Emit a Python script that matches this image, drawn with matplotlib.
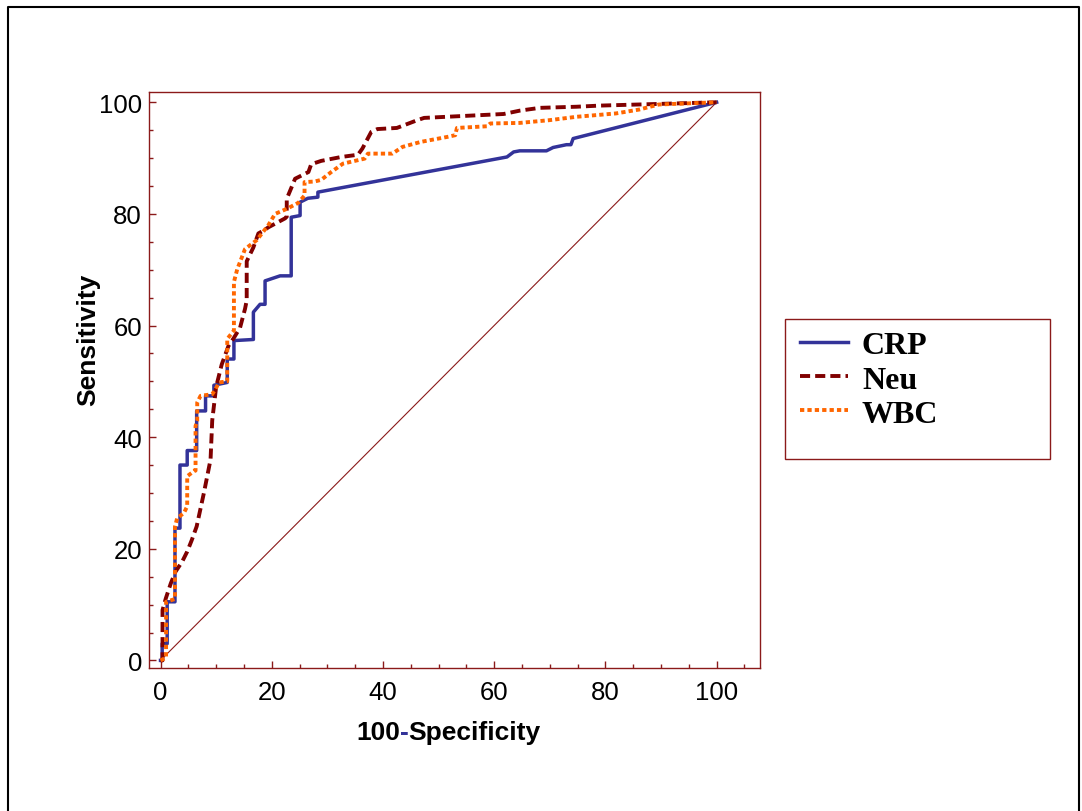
import matplotlib
matplotlib.use("Agg")
import matplotlib.pyplot as plt
from matplotlib.patches import Rectangle
from matplotlib.lines import Line2D
from matplotlib.ticker import MultipleLocator

plt.rcParams['font.family'] = ['Liberation Sans', 'DejaVu Sans']

# ROC curves (100-Specificity, Sensitivity)
crp_x = [0, 0.3, 0.3, 1.2, 1.2, 2.6, 2.6, 3.5, 3.5, 4.8, 4.8, 6.5, 6.5, 8.1, 8.1,
         9.6, 9.6, 12.0, 12.0, 13.2, 13.2, 16.7, 16.7, 17.9, 18.8, 18.8, 21.5,
         23.5, 23.5, 25.1, 25.1, 26.5, 28.3, 28.3, 62.3, 63.5, 64.6, 69.4, 70.6,
         73.0, 73.8, 74.2, 100]
crp_y = [0, 0, 3.0, 3.0, 10.5, 10.5, 23.7, 23.7, 35.0, 35.0, 37.6, 37.6, 44.7,
         44.7, 47.4, 47.4, 49.3, 49.8, 54.0, 54.0, 57.3, 57.5, 62.4, 63.8, 63.8,
         68.0, 68.9, 68.9, 79.4, 79.7, 82.1, 82.8, 83.0, 83.9, 90.2, 91.1, 91.3,
         91.3, 91.9, 92.4, 92.4, 93.5, 100]

neu_x = [0, 0.36, 0.36, 0.95, 1.85, 2.7, 3.9, 4.8, 5.6, 6.5, 7.8, 9.0, 9.3, 10.0,
         11.0, 12.2, 13.2, 14.3, 15.2, 15.5, 15.5, 16.7, 17.6, 18.5, 19.4, 22.4,
         22.7, 22.7, 24.2, 26.6, 27.1, 28.9, 32.5, 35.5, 36.3, 37.9, 39.0, 42.5,
         46.2, 47.4, 61.7, 64.6, 68.2, 74.8, 78.9, 100]
neu_y = [0, 0, 9.0, 11.1, 13.8, 15.9, 17.7, 19.5, 21.5, 24.0, 30.0, 36.0, 43.0,
         49.0, 53.0, 56.3, 57.8, 59.6, 63.0, 64.5, 71.5, 74.0, 76.5, 77.0, 77.6,
         79.2, 79.5, 82.7, 86.3, 87.5, 88.9, 89.5, 90.2, 90.6, 91.7, 94.7, 95.2,
         95.4, 96.8, 97.2, 97.9, 98.5, 99.0, 99.2, 99.4, 100]

wbc_x = [0, 1.0, 1.0, 2.6, 2.6, 3.0, 4.2, 4.8, 4.8, 6.0, 6.3, 6.3, 6.6, 6.6, 7.2,
         9.3, 9.9, 10.5, 12.0, 12.0, 13.2, 13.2, 13.8, 15.2, 17.3, 19.4, 20.6,
         22.7, 24.8, 25.9, 25.9, 27.7, 28.9, 30.7, 32.8, 36.7, 37.3, 41.7, 43.5,
         46.8, 51.6, 53.0, 53.3, 58.7, 59.3, 64.6, 70.0, 74.8, 81.9, 86.1, 89.6, 100]
wbc_y = [0, 0.5, 10.5, 11.0, 24.0, 25.5, 26.4, 27.6, 33.0, 33.9, 34.0, 42.0, 42.9,
         46.2, 47.4, 47.7, 48.6, 49.8, 50.0, 57.6, 59.1, 67.8, 70.1, 73.7, 75.3,
         78.0, 80.0, 80.9, 82.0, 83.3, 85.7, 85.8, 86.1, 87.5, 89.0, 89.9, 90.8,
         90.8, 92.0, 92.9, 93.8, 94.1, 95.4, 95.7, 96.2, 96.3, 96.8, 97.4, 98.0,
         98.7, 99.6, 100]

labels = ["CRP", "Neu", "WBC"]
red = '#8B1A1A'

W, H = 1082, 812
fig = plt.figure(figsize=(W / 100, H / 100), dpi=100)
ax = fig.add_axes([149 / W, 1 - 669 / H, (760 - 149) / W, (669 - 93) / H])

ax.plot([0, 100], [0, 100], color=red, lw=0.8)
l1, = ax.plot(crp_x, crp_y, color='#333399', lw=2.5)
l2, = ax.plot(neu_x, neu_y, color='#800000', lw=2.8, dashes=(2.6, 1.3))
l3, = ax.plot(wbc_x, wbc_y, color='#FF6600', lw=2.8, dashes=(1.1, 0.8))

ax.set_xlim(-2.07, 107.8)
ax.set_ylim(-1.36, 101.84)
ax.xaxis.set_major_locator(MultipleLocator(20))
ax.yaxis.set_major_locator(MultipleLocator(20))
ax.xaxis.set_minor_locator(MultipleLocator(5))
ax.yaxis.set_minor_locator(MultipleLocator(5))
ax.tick_params(which='both', direction='in', color=red, width=1,
               labelsize=18.5, labelcolor='black')
ax.tick_params(which='major', length=5)
ax.tick_params(which='minor', length=3)
ax.tick_params(axis='x', pad=9)
ax.tick_params(axis='y', pad=5)
for s in ax.spines.values():
    s.set_color(red)
    s.set_linewidth(1)

# axis labels (the hyphen of the x label is blue)
t1 = fig.text(356 / W, 1 - 740 / H, "100", ha='left', va='baseline',
              fontsize=19, weight='bold')
t2 = ax.annotate("-", xy=(1, 0), xycoords=t1, ha='left', va='bottom',
                 fontsize=19, weight='bold', color='#333399')
ax.annotate("Specificity", xy=(1, 0), xycoords=t2, ha='left', va='bottom',
            fontsize=19, weight='bold')
fig.text(88 / W, 1 - 340 / H, "Sensitivity", rotation=90, ha='center',
         va='center', fontsize=19, weight='bold')

# legend
fig.add_artist(Rectangle((785 / W, 1 - 460 / H), (1050 - 785) / W, (460 - 320) / H,
                         transform=fig.transFigure, fill=False, ec=red, lw=1))
fig.legend([l1, l2, l3], labels, loc='upper left',
           bbox_to_anchor=(800 / W, 1 - 332 / H), frameon=False,
           prop={'family': 'Liberation Serif', 'weight': 'bold', 'size': 23},
           handlelength=1.5, handletextpad=0.44, labelspacing=0.15,
           borderpad=0, borderaxespad=0)

# outer frame
fig.add_artist(Line2D([8 / W, 8 / W, 1079 / W, 1079 / W], [0, 1 - 8 / H, 1 - 8 / H, 0],
                      transform=fig.transFigure, color='black', lw=1.5))

fig.savefig("out.png", dpi=100)
